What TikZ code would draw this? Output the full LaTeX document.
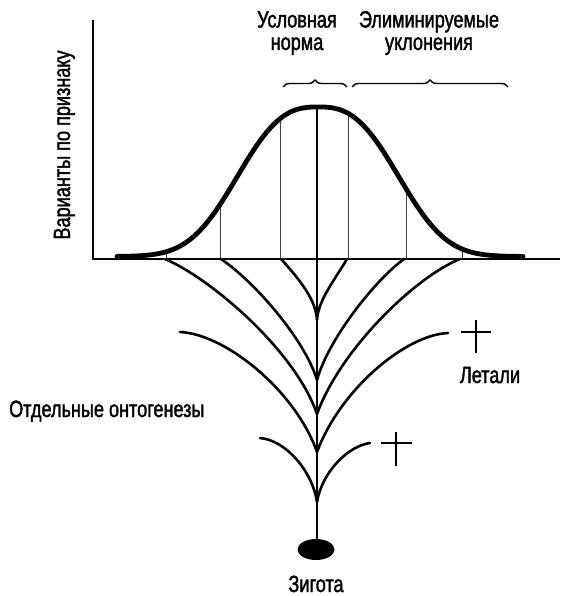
\documentclass[tikz,border=0pt]{standalone}
\usepackage{fontspec}
\setmainfont{Liberation Sans}[FakeStretch=0.77,FakeBold=1.6]
\usetikzlibrary{decorations.pathreplacing,shapes.geometric}
\begin{document}
\begin{tikzpicture}[x=1pt,y=-1pt,
  declare function={bell(\t)=256.5-149.5*exp(-exp(2.7*ln(abs(\t)/96+0.0001)));},
  lbl/.style={font=\fontsize{23.5}{22.5}\selectfont, inner sep=0pt},
  axisline/.style={line width=1.5pt},
  bellline/.style={line width=4.8pt, line cap=round},
  branch/.style={line width=2.6pt, line cap=round},
  stemtop/.style={line width=1.6pt},
  tickline/.style={line width=0.8pt, black!75},
  bracestyle/.style={line width=1.4pt, decorate, decoration={brace, amplitude=7pt}},
  crossline/.style={line width=2.2pt}]
\fill[white] (0,0) rectangle (573,596);
\useasboundingbox (0,0) rectangle (573,596);
% axes
\coordinate (ytop) at (93,20);
\coordinate (origin) at (93,259);
\coordinate (xend) at (560,259);
\draw[axisline] (ytop) -- (origin) -- (xend);
% vertical lines under the curve
\foreach \xx in {166,220,280,348,406,462}
  \draw[tickline] (\xx,259) -- (\xx,{bell(\xx-318)});
% bell curve
\draw[bellline] plot[domain=-201:205, samples=161] ({318+\x},{bell(\x)});
% stem
\coordinate (peak) at (317,107);
\coordinate (base) at (317,259);
\node[ellipse, fill=black, minimum width=37pt, minimum height=21pt, inner sep=0pt] (zyg) at (316,549.5) {};
\draw[stemtop] (peak) -- (base);
\draw[branch] (base) -- (317,541);
% branch points
\coordinate (s1) at (317,320);
\coordinate (s2) at (317,380);
\coordinate (s3) at (317,414);
\coordinate (s4) at (317,452);
\coordinate (s5) at (317,502);
% ends
\coordinate (a1) at (281,259);
\coordinate (b1) at (347,259);
\coordinate (a2) at (221,259);
\coordinate (b2) at (404,259);
\coordinate (a3) at (165,259);
\coordinate (b3) at (460,259);
\coordinate (a4) at (180,332);
\coordinate (b4) at (448,333);
\coordinate (a5) at (260,438);
\coordinate (b5) at (370,443);
\draw[branch] (a1) .. controls (300,280) and (316,300) .. (s1);
\draw[branch] (b1) .. controls (336,278) and (318,300) .. (s1);
\draw[branch] (a2) .. controls (255,282) and (305,340) .. (s2);
\draw[branch] (b2) .. controls (374,281) and (328,340) .. (s2);
\draw[branch] (a3) .. controls (210,278) and (295,350) .. (s3);
\draw[branch] (b3) .. controls (415,277) and (340,350) .. (s3);
\draw[branch] (a4) .. controls (225,334) and (295,390) .. (s4);
\draw[branch] (b4) .. controls (405,335) and (340,390) .. (s4);
\draw[branch] (a5) .. controls (285,440) and (312,470) .. (s5);
\draw[branch] (b5) .. controls (348,446) and (322,472) .. (s5);
% crosses
\draw[crossline] (476,320) -- (476,353) (461,332) -- (491,332);
\draw[crossline] (396,432) -- (396,466) (381,443) -- (412,443);
% braces
\draw[bracestyle] (283,87) -- (347,87);
\draw[bracestyle] (352,87) -- (508,87);
% labels
\node[lbl, align=center, anchor=base] (norm) at (297,50) {Условная\\норма};
\node[lbl, align=center, anchor=base] (elim) at (429,50) {Элиминируемые\\уклонения};
\node[lbl, rotate=90, anchor=base] (ylab) at (70,145) {Варианты по признаку};
\node[lbl, anchor=base west] (onto) at (9,417) {Отдельные онтогенезы};
\node[lbl, anchor=base] (let) at (490,383) {Летали};
\node[lbl, anchor=base] (zlab) at (316,592) {Зигота};
\end{tikzpicture}
\end{document}
